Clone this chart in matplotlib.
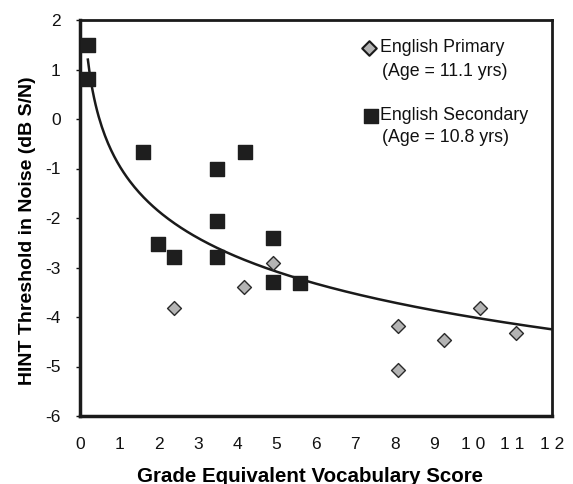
import numpy as np
import matplotlib
matplotlib.use("Agg")
import matplotlib.pyplot as plt

plt.rcParams['font.family'] = ['Liberation Sans', 'DejaVu Sans']
plt.rcParams['axes.unicode_minus'] = False

# English Primary (diamonds)
primary_x = [2.39, 4.18, 4.90, 8.08, 8.08, 9.26, 10.16, 11.08]
primary_y = [-3.81, -3.39, -2.90, -4.19, -5.08, -4.46, -3.81, -4.32]

# English Secondary (squares)
secondary_x = [0.20, 0.20, 1.60, 3.48, 4.20, 3.48, 1.98, 2.39, 3.48, 4.90, 4.90, 5.59]
secondary_y = [1.49, 0.81, -0.67, -1.01, -0.67, -2.06, -2.52, -2.79, -2.79, -2.41, -3.29, -3.31]

# Logarithmic trendline y = a + b*ln(x)
trend_a = -0.942
trend_b = -1.331
trend_xrange = (0.2, 12.0)

x_ticks = list(range(13))
x_ticklabels = ['0', '1', '2', '3', '4', '5', '6', '7', '8', '9', '1 0', '1 1', '1 2']
y_ticks = [-6, -5, -4, -3, -2, -1, 0, 1, 2]

legend_lines = [('English Primary', '(Age = 11.1 yrs)'),
                ('English Secondary', '(Age = 10.8 yrs)')]

fig = plt.figure(figsize=(5.73, 4.84), dpi=100)
ax = fig.add_axes([80/573, 1-416/484, (552-80)/573, (416-20)/484])

xs = np.linspace(trend_xrange[0], trend_xrange[1], 300)
ax.plot(xs, trend_a + trend_b*np.log(xs), color='#1a1a1a', lw=1.8, zorder=2)

ax.scatter(secondary_x, secondary_y, marker='s', s=105, color='#1e1e1e', zorder=3)
ax.scatter(primary_x, primary_y, marker='D', s=50, facecolor='#b4b4b4',
           edgecolor='#2a2a2a', linewidths=1.0, zorder=3)

ax.set_xlim(0, 12)
ax.set_ylim(-6, 2)
ax.set_xticks(x_ticks)
ax.set_xticklabels(x_ticklabels)
ax.set_yticks(y_ticks)
ax.tick_params(axis='x', length=0, pad=15, labelsize=12.5, colors='#111111')
ax.tick_params(axis='y', length=3, width=1, direction='out', pad=11, labelsize=12.5, colors='#111111')
for s in ax.spines.values():
    s.set_linewidth(2.0)
    s.set_color('#1a1a1a')
ax.spines['left'].set_linewidth(2.5)
ax.spines['bottom'].set_linewidth(2.5)

ax.set_xlabel('Grade Equivalent Vocabulary Score', fontsize=14.8, fontweight='bold')
ax.xaxis.set_label_coords((310-80)/472, (416-476)/396)
ax.set_ylabel('HINT Threshold in Noise (dB S/N)', fontsize=14, fontweight='bold')
ax.yaxis.set_label_coords((28-80)/472, (416-231)/396)
ax.yaxis.label.set_va('center')
ax.xaxis.label.set_va('center')

# Legend (manual)
tr = ax.transAxes
def ax_xy(px, py):
    return ((px-80)/472, (416-py)/396)

mx, my = ax_xy(369, 48)
ax.scatter([mx], [my], marker='D', s=55, facecolor='#b4b4b4', edgecolor='#1a1a1a',
           linewidths=1.5, transform=tr, clip_on=False, zorder=4)
mx, my = ax_xy(371, 116)
ax.scatter([mx], [my], marker='s', s=110, color='#1e1e1e', transform=tr, clip_on=False, zorder=4)

for (l1, l2), (y1, y2) in zip(legend_lines, [(48, 72), (116, 138)]):
    ax.text(*ax_xy(380, y1), l1, transform=tr, fontsize=12.8, va='center', ha='left', color='#111111')
    ax.text(*ax_xy(382, y2), l2, transform=tr, fontsize=12.8, va='center', ha='left', color='#111111')

fig.savefig('out.png', dpi=100, facecolor='white')
